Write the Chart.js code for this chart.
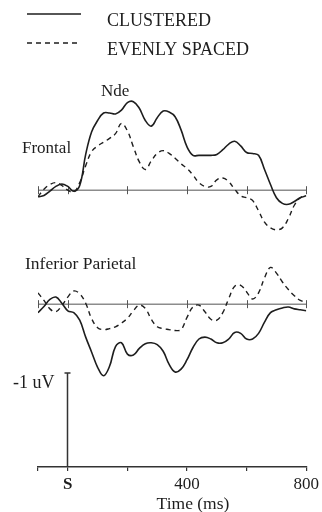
<!DOCTYPE html>
<html>
<head>
<meta charset="utf-8">
<script src="https://cdn.jsdelivr.net/npm/chart.js@4"></script>
<style>
  html, body { margin: 0; padding: 0; background: #fff; }
  canvas { display: block; }
</style>
</head>
<body>
<canvas id="erpChart" width="322" height="512"></canvas>
<script>
// time (ms) of each sample
const times = [-100, -80, -60, -40, -20, 0, 20, 40, 60, 80, 100, 120, 140, 160, 180, 200,
  220, 240, 260, 280, 300, 320, 340, 360, 380, 400, 420, 440, 460, 480, 500, 520, 540,
  560, 580, 600, 620, 640, 660, 680, 700, 720, 740, 760, 780, 800];

// amplitudes in uV (negative plotted up)
const frontalClustered = [0.07, 0.056, 0.01, -0.04, -0.066, -0.04, 0.01, -0.05, -0.38, -0.62,
  -0.74, -0.82, -0.82, -0.81, -0.85, -0.93, -0.94, -0.87, -0.74, -0.68, -0.77, -0.84, -0.83,
  -0.78, -0.64, -0.46, -0.37, -0.37, -0.37, -0.37, -0.38, -0.43, -0.49, -0.52, -0.47, -0.40,
  -0.39, -0.37, -0.22, -0.06, 0.08, 0.14, 0.15, 0.12, 0.08, 0.06];
const frontalEven = [0.07, -0.01, -0.06, -0.08, -0.05, 0.0, 0.02, -0.08, -0.26, -0.41,
  -0.47, -0.51, -0.55, -0.60, -0.71, -0.63, -0.46, -0.30, -0.22, -0.31, -0.39, -0.42, -0.39,
  -0.34, -0.28, -0.23, -0.16, -0.08, -0.04, -0.04, -0.11, -0.13, -0.09, -0.01, 0.06, 0.08,
  0.11, 0.22, 0.34, 0.40, 0.42, 0.40, 0.30, 0.16, 0.08, 0.06];
const parietalClustered = [0.09, 0.025, -0.05, -0.075, -0.01, 0.07, 0.09, 0.17, 0.35, 0.51,
  0.67, 0.76, 0.66, 0.45, 0.41, 0.53, 0.54, 0.47, 0.42, 0.41, 0.43, 0.50, 0.64, 0.72, 0.69,
  0.59, 0.46, 0.37, 0.35, 0.37, 0.41, 0.41, 0.37, 0.30, 0.31, 0.37, 0.37, 0.31, 0.19, 0.09,
  0.06, 0.04, 0.03, 0.05, 0.06, 0.07];
const parietalEven = [-0.12, -0.04, 0.05, 0.08, 0.015, -0.075, -0.14, -0.11, -0.01, 0.155,
  0.25, 0.27, 0.26, 0.24, 0.20, 0.15, 0.07, 0.01, 0.045, 0.16, 0.24, 0.26, 0.27, 0.28, 0.27,
  0.14, 0.03, 0.01, 0.08, 0.16, 0.17, 0.09, -0.06, -0.19, -0.20, -0.13, -0.055, -0.12, -0.28,
  -0.39, -0.33, -0.235, -0.155, -0.09, -0.04, -0.025];

const seriesLabels = ['CLUSTERED', 'EVENLY SPACED'];
const panelLabels = ['Frontal', 'Inferior Parietal'];
const timeTicks = [-100, 0, 200, 400, 600, 800];
const tickLabels = ['', 'S', '', '400', '', '800'];

const serif = '"Liberation Serif", "Times New Roman", serif';
const ink = '#1e1e1e';

const toPoints = arr => times.map((t, i) => ({ x: t, y: arr[i] }));

const solidStyle = { borderColor: ink, borderWidth: 1.6, borderDash: [] };
const dashStyle = { borderColor: ink, borderWidth: 1.4, borderDash: [5, 4] };

const erpDecor = {
  id: 'erpDecor',
  beforeDatasetsDraw(chart) {
    const { ctx, scales: { x } } = chart;
    ctx.save();
    ['yF', 'yP'].forEach(id => {
      const y0 = chart.scales[id].getPixelForValue(0);
      ctx.strokeStyle = '#8c8c8c';
      ctx.lineWidth = 1.5;
      ctx.beginPath();
      ctx.moveTo(x.left, y0);
      ctx.lineTo(x.right, y0);
      ctx.stroke();
      ctx.strokeStyle = '#555';
      ctx.lineWidth = 1;
      timeTicks.forEach(t => {
        const px = Math.round(x.getPixelForValue(t)) + 0.5;
        ctx.beginPath();
        ctx.moveTo(px, y0 - 4);
        ctx.lineTo(px, y0 + 4);
        ctx.stroke();
      });
    });
    ctx.restore();
  },
  afterDraw(chart) {
    const { ctx, chartArea, scales: { x, yP } } = chart;
    ctx.save();
    ctx.fillStyle = ink;
    ctx.textBaseline = 'alphabetic';

    // legend
    const styles = [solidStyle, dashStyle];
    [[14, 26], [43, 55]].forEach(([ly, ty], i) => {
      ctx.strokeStyle = styles[i].borderColor;
      ctx.lineWidth = 1.5;
      ctx.setLineDash(styles[i].borderDash);
      ctx.beginPath();
      ctx.moveTo(27, ly);
      ctx.lineTo(81, ly);
      ctx.stroke();
      ctx.setLineDash([]);
      ctx.font = '18px ' + serif;
      ctx.textAlign = 'left';
      ctx.fillText(seriesLabels[i], 107, ty);
    });

    // panel labels
    ctx.font = '17px ' + serif;
    ctx.fillText('Nde', 101, 96);
    ctx.fillText(panelLabels[0], 22, 153);
    ctx.font = '17.5px ' + serif;
    ctx.fillText(panelLabels[1], 25, 269);

    // scale bar: 1 uV
    const x0 = Math.round(x.getPixelForValue(0)) - 0.5;
    const barH = yP.getPixelForValue(0) - yP.getPixelForValue(-1);
    const top = chartArea.bottom - barH;
    ctx.strokeStyle = '#333';
    ctx.lineWidth = 1.5;
    ctx.beginPath();
    ctx.moveTo(x0, chartArea.bottom);
    ctx.lineTo(x0, top);
    ctx.moveTo(x0 - 3, top);
    ctx.lineTo(x0 + 3, top);
    ctx.stroke();
    ctx.textAlign = 'right';
    ctx.font = '18px ' + serif;
    ctx.fillText('-1 uV', x0 - 13, top + 15);

    // axis title
    ctx.textAlign = 'center';
    ctx.font = '17.5px ' + serif;
    ctx.fillText('Time (ms)', x.getPixelForValue(420), 509);
    ctx.restore();
  }
};

new Chart(document.getElementById('erpChart'), {
  type: 'line',
  data: {
    datasets: [
      { label: seriesLabels[0], data: toPoints(frontalClustered), yAxisID: 'yF', ...solidStyle },
      { label: seriesLabels[1], data: toPoints(frontalEven), yAxisID: 'yF', ...dashStyle },
      { label: seriesLabels[0], data: toPoints(parietalClustered), yAxisID: 'yP', ...solidStyle },
      { label: seriesLabels[1], data: toPoints(parietalEven), yAxisID: 'yP', ...dashStyle }
    ]
  },
  options: {
    responsive: false,
    devicePixelRatio: 1,
    animation: false,
    elements: { point: { radius: 0 }, line: { tension: 0.4, fill: false } },
    layout: { padding: { left: 38, right: 13, top: 80, bottom: 14.5 } },
    plugins: { legend: { display: false }, tooltip: { enabled: false } },
    scales: {
      x: {
        type: 'linear',
        min: -100,
        max: 800,
        afterBuildTicks: scale => { scale.ticks = timeTicks.map(v => ({ value: v })); },
        ticks: {
          autoSkip: false,
          maxRotation: 0,
          padding: 3,
          color: ink,
          font: c => ({ family: serif, size: 17, weight: c.tick && c.tick.value === 0 ? 'bold' : 'normal' }),
          callback: (v, i) => tickLabels[i]
        },
        grid: { drawOnChartArea: false, tickLength: 4, color: '#333', lineWidth: 1.2 },
        border: { color: '#333', width: 1.5 }
      },
      yF: { type: 'linear', display: false, reverse: true, min: -1.17, max: 2.94 },
      yP: { type: 'linear', display: false, reverse: true, min: -2.38, max: 1.73 }
    }
  },
  plugins: [erpDecor]
});
</script>
</body>
</html>
